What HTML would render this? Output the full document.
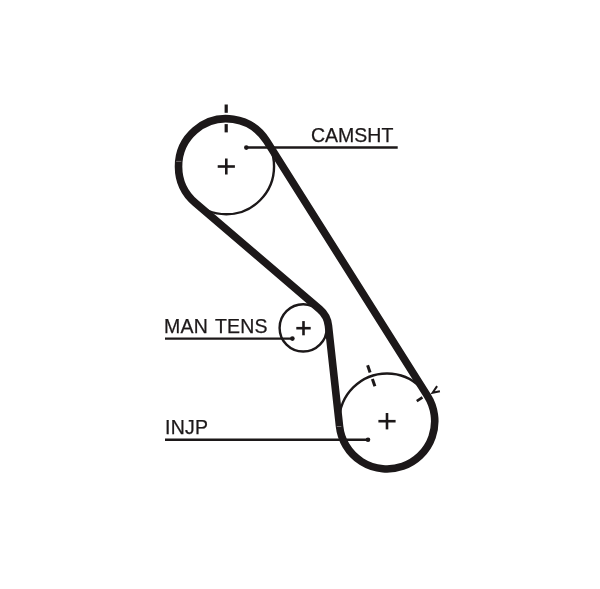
<!DOCTYPE html>
<html><head><meta charset="utf-8"><style>
html,body{margin:0;padding:0;background:#fff;}
body{width:600px;height:589px;overflow:hidden;position:relative;}
svg{position:absolute;left:0;top:0;}
.t{position:absolute;font-family:"Liberation Sans",sans-serif;color:#1c1819;font-size:19.5px;line-height:1;white-space:nowrap;will-change:transform;-webkit-text-stroke:0.25px #1c1819;}
</style></head><body>
<svg width="600" height="589" viewBox="0 0 600 589">
<g stroke="#1c1819" fill="#1c1819" stroke-linecap="butt">
<circle cx="226.30" cy="166.50" r="47.75" fill="none" stroke-width="2.40"/>
<circle cx="387.00" cy="421.20" r="47.75" fill="none" stroke-width="2.40"/>
<circle cx="303.20" cy="327.90" r="23.60" fill="none" stroke-width="2.40"/>
<path d="M 266.68 141.02 L 427.38 395.72 A 47.75 47.75 0 1 1 339.54 426.43 L 328.45 325.73 A 25.30 25.30 0 0 0 319.71 309.24 L 195.33 202.84 A 47.75 47.75 0 1 1 266.68 141.02 Z" fill="none" stroke-width="7.60"/>
<line x1="176.2" y1="161.4" x2="181.3" y2="161.4" stroke="#6e696a" stroke-width="1"/>
<line x1="336.8" y1="426.5" x2="341.3" y2="426.5" stroke="#6e696a" stroke-width="1"/>
<line x1="226.2" y1="104.5" x2="226.2" y2="112.8" stroke-width="3.2"/>
<line x1="226.2" y1="124.1" x2="226.2" y2="132.4" stroke-width="3.2"/>
<line x1="370.11" y1="372.44" x2="367.59" y2="365.17" stroke-width="3.00"/>
<line x1="374.92" y1="386.33" x2="372.37" y2="378.96" stroke-width="3.00"/>
<line x1="416.80" y1="401.18" x2="422.44" y2="397.39" stroke-width="2.60"/>
<polyline points="437.1,386.1 432.6,392.7 439.9,391.2" fill="none" stroke-width="2"/>
<line x1="217.70" y1="166.50" x2="234.90" y2="166.50" stroke-width="2.60"/><line x1="226.30" y1="158.50" x2="226.30" y2="174.50" stroke-width="2.60"/>
<line x1="378.40" y1="421.20" x2="395.60" y2="421.20" stroke-width="2.60"/><line x1="387.00" y1="413.00" x2="387.00" y2="429.40" stroke-width="2.60"/>
<line x1="296.30" y1="328.20" x2="310.70" y2="328.20" stroke-width="2.60"/><line x1="303.50" y1="321.10" x2="303.50" y2="335.30" stroke-width="2.60"/>
<line x1="246.1" y1="147.6" x2="397.7" y2="147.6" stroke-width="2.5"/>
<line x1="165" y1="338.6" x2="292.4" y2="338.6" stroke-width="2.4"/>
<line x1="165" y1="439.8" x2="368" y2="439.8" stroke-width="2.4"/>
<circle cx="246.30" cy="147.60" r="2.3" stroke="none"/>
<circle cx="292.40" cy="338.60" r="2.3" stroke="none"/>
<circle cx="368.00" cy="439.80" r="2.3" stroke="none"/>
</g></svg>
<div class="t" style="left:310.8px;top:126px">CAMSHT</div>
<div class="t" style="left:164px;top:317px;letter-spacing:0.2px;word-spacing:1.8px">MAN TENS</div>
<div class="t" style="left:165px;top:418px;letter-spacing:0.25px">INJP</div>
</body></html>
